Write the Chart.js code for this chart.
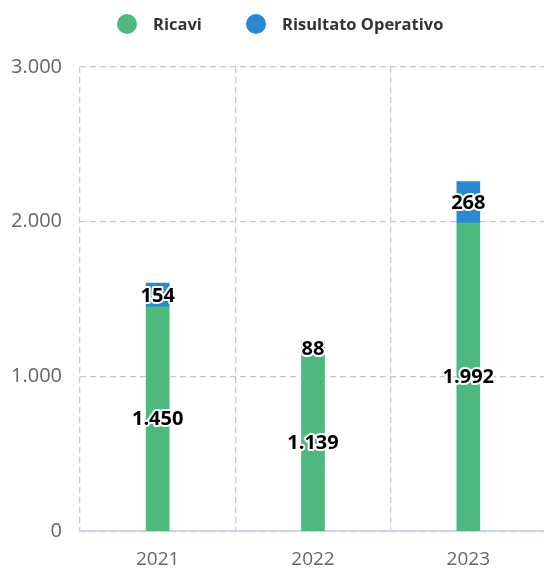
<!DOCTYPE html>
<html><head><meta charset="utf-8">
<script src="https://cdn.jsdelivr.net/npm/chart.js@4/dist/chart.umd.min.js"></script>
<style>html,body{margin:0;padding:0;background:#fff;overflow:hidden;}#wrap{position:relative;width:544px;height:572px;overflow:hidden;}</style>
</head><body><div id="wrap"><canvas id="c" width="546" height="572"></canvas></div>
<script>
const categories = ['2021', '2022', '2023'];
const ricavi = [1450, 1139, 1992];
const risultatoOperativo = [154, 88, 268];
const yTicks = [0, 1000, 2000, 3000];
const seriesNames = ['Ricavi', 'Risultato Operativo'];
const seriesColors = ['#4eb97e', '#2b89d2'];

function fmt(v){ return String(Math.round(v)).replace(/\B(?=(\d{3})+(?!\d))/g, '.'); }

const FONT = "'Open Sans', 'Noto Sans', sans-serif";

const labelPlugin = {
  id: 'labels',
  afterDatasetsDraw(chart){
    const ctx = chart.ctx;
    ctx.save();
    ctx.font = "bold 20px " + FONT;
    ctx.textAlign = 'center';
    ctx.textBaseline = 'middle';
    ctx.lineJoin = 'round';
    chart.data.datasets.forEach((ds, i) => {
      const meta = chart.getDatasetMeta(i);
      meta.data.forEach((el, j) => {
        const p = el.getCenterPoint();
        const t = fmt(ds.data[j]);
        ctx.lineWidth = 4;
        ctx.strokeStyle = '#fff';
        ctx.strokeText(t, p.x, p.y + 1);
        ctx.fillStyle = '#000';
        ctx.fillText(t, p.x, p.y + 1);
      });
    });
    ctx.restore();
  }
};

const legendPlugin = {
  id: 'customLegend',
  afterDraw(chart){
    const ctx = chart.ctx;
    ctx.save();
    ctx.font = "bold 16.5px " + FONT;
    ctx.textBaseline = 'middle';
    const pos = [127, 256];
    chart.data.datasets.forEach((ds, i) => {
      const cx = pos[i], cy = 24;
      ctx.fillStyle = ds.backgroundColor;
      ctx.beginPath(); ctx.arc(cx, cy, 10, 0, Math.PI*2); ctx.fill();
      ctx.fillStyle = '#333';
      ctx.fillText(ds.label, cx + 26, cy + 1);
    });
    ctx.restore();
  }
};

new Chart(document.getElementById('c'), {
  type: 'bar',
  data: {
    labels: categories,
    datasets: [
      { label: seriesNames[0], data: ricavi, backgroundColor: seriesColors[0], barThickness: 23 },
      { label: seriesNames[1], data: risultatoOperativo, backgroundColor: seriesColors[1], barThickness: 23 }
    ]
  },
  options: {
    responsive: false,
    animation: false,
    layout: { padding: { top: 67, right: 0, left: 0, bottom: -16 } },
    plugins: { legend: { display: false }, tooltip: { enabled: false } },
    scales: {
      x: {
        stacked: true,
        grid: { color: '#c8c8c8', lineWidth: 1.3, drawTicks: false, offset: true },
        border: { display: true, color: '#ccd6eb', width: 2, dash: [6, 4] },
        ticks: { color: '#666', font: { size: 19, family: FONT }, padding: 17 }
      },
      y: {
        stacked: true,
        min: 0, max: 3000,
        afterBuildTicks(s){ s.ticks = yTicks.map(v => ({ value: v })); },
        afterFit(s){ s.width = 80; },
        grid: { color: '#c8c8c8', lineWidth: 1.3, drawTicks: false },
        border: { display: false, dash: [6, 4] },
        ticks: { color: '#666', font: { size: 20, family: FONT }, padding: 18, callback: v => fmt(v) }
      }
    }
  },
  plugins: [labelPlugin, legendPlugin]
});
</script></body></html>
